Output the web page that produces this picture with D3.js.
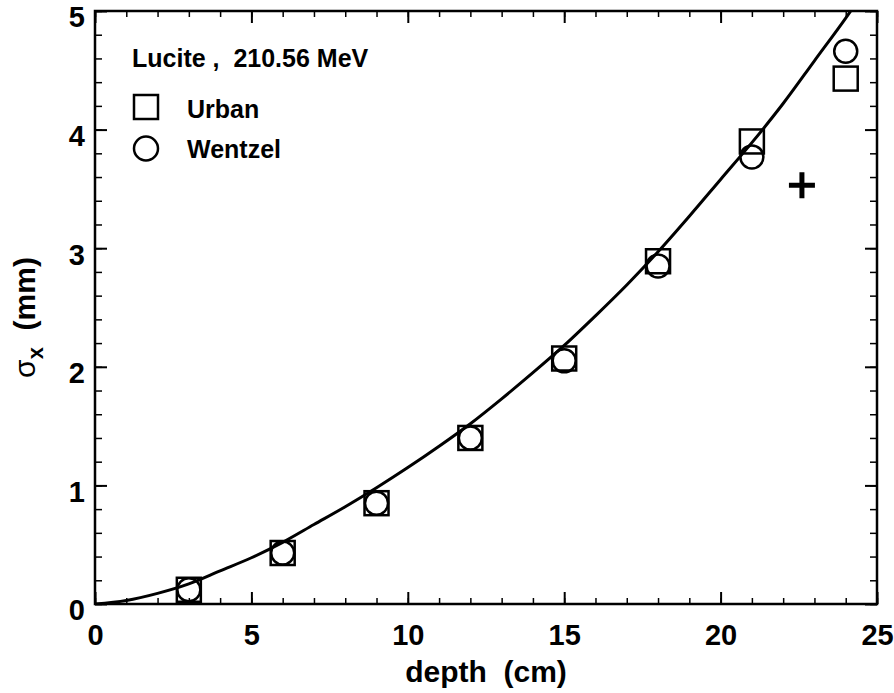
<!DOCTYPE html>
<html>
<head>
<meta charset="utf-8">
<script src="https://cdn.jsdelivr.net/npm/d3@7"></script>
<style>
  body { margin: 0; background: #fff; }
  text { font-family: "Liberation Sans", Arial, sans-serif; font-weight: bold; fill: #000; white-space: pre; }
</style>
</head>
<body>
<div id="graphArea"></div>
<script>
// data
var depths = [3, 6, 9, 12, 15, 18, 21, 24];
var urban = [0.12, 0.43, 0.85, 1.40, 2.07, 2.89, 3.90, 4.43];
var wentzel = [0.12, 0.43, 0.85, 1.40, 2.05, 2.85, 3.77, 4.66];
var crossPt = [[22.6, 3.53]];
var curveX = [0, 1, 2, 3, 4, 5, 6, 7, 8, 9, 10, 11, 12, 13, 14, 15, 16, 17, 18, 19, 20, 21, 22, 23, 24, 24.5];
var curveY = [0, 0.03, 0.09, 0.17, 0.28, 0.39, 0.52, 0.67, 0.82, 0.98, 1.15, 1.33, 1.52, 1.73, 1.95, 2.18, 2.43, 2.69, 2.97, 3.27, 3.58, 3.89, 4.22, 4.58, 4.94, 5.13];
var xTicks = [0, 5, 10, 15, 20, 25];
var yTicks = [0, 1, 2, 3, 4, 5];

var margin = {left: 95, top: 11, right: 17, bottom: 89};
var width = 894 - margin.left - margin.right;
var height = 693 - margin.top - margin.bottom;

var svg = d3.select("#graphArea")
  .append("svg")
    .attr("width", 894)
    .attr("height", 693)
  .append("g")
    .attr("transform", "translate(" + margin.left + "," + margin.top + ")");

var x = d3.scaleLinear().domain([0, 25]).range([0, width]);
var y = d3.scaleLinear().domain([0, 5]).range([height, 0]);

var xMinor = d3.range(0, 26, 1);
var yMinor = d3.range(0, 5.01, 0.2);

function tidy(g, w) {
  g.select(".domain").remove();
  g.selectAll("line").attr("stroke", "#000").attr("stroke-width", w);
}

// minor ticks on all four sides
svg.append("g").attr("transform", "translate(0," + height + ")")
  .call(d3.axisBottom(x).tickValues(xMinor).tickSize(-6).tickFormat(""))
  .call(tidy, 1.5);
svg.append("g")
  .call(d3.axisTop(x).tickValues(xMinor).tickSize(-6).tickFormat(""))
  .call(tidy, 1.5);
svg.append("g")
  .call(d3.axisLeft(y).tickValues(yMinor).tickSize(-7).tickFormat(""))
  .call(tidy, 1.5);
svg.append("g").attr("transform", "translate(" + width + ",0)")
  .call(d3.axisRight(y).tickValues(yMinor).tickSize(-7).tickFormat(""))
  .call(tidy, 1.5);

// major ticks
svg.append("g").attr("transform", "translate(0," + height + ")")
  .call(d3.axisBottom(x).tickValues(xTicks).tickSize(-12).tickPadding(20).tickFormat(d3.format("d")))
  .call(tidy, 2)
  .selectAll("text")
    .style("font-size", "29px");
svg.append("g")
  .call(d3.axisTop(x).tickValues(xTicks).tickSize(-12).tickFormat(""))
  .call(tidy, 2);
svg.append("g")
  .call(d3.axisLeft(y).tickValues(yTicks).tickSize(-12).tickPadding(10).tickFormat(d3.format("d")))
  .call(tidy, 2)
  .selectAll("text")
    .attr("dy", "0.55em")
    .style("font-size", "29px");
svg.append("g").attr("transform", "translate(" + width + ",0)")
  .call(d3.axisRight(y).tickValues(yTicks).tickSize(-12).tickFormat(""))
  .call(tidy, 2);

// frame
svg.append("rect")
  .attr("width", width)
  .attr("height", height)
  .attr("fill", "none")
  .attr("stroke", "#000")
  .attr("stroke-width", 2.5);

svg.append("clipPath").attr("id", "clip")
  .append("rect").attr("width", width).attr("height", height);

// curve
var line = d3.line()
  .x(function(d, i) { return x(curveX[i]); })
  .y(function(d) { return y(d); })
  .curve(d3.curveMonotoneX);
svg.append("path")
  .datum(curveY)
  .attr("clip-path", "url(#clip)")
  .attr("d", line)
  .attr("fill", "none")
  .attr("stroke", "#000")
  .attr("stroke-width", 3);

// Urban squares
var sq = 24;
svg.selectAll("rect.urban")
  .data(urban)
  .enter()
  .append("rect")
    .attr("class", "urban")
    .attr("x", function(d, i) { return x(depths[i]) - sq / 2; })
    .attr("y", function(d) { return y(d) - sq / 2; })
    .attr("width", sq)
    .attr("height", sq)
    .attr("fill", "none")
    .attr("stroke", "#000")
    .attr("stroke-width", 2.5);

// Wentzel circles
svg.selectAll("circle.wentzel")
  .data(wentzel)
  .enter()
  .append("circle")
    .attr("class", "wentzel")
    .attr("cx", function(d, i) { return x(depths[i]); })
    .attr("cy", function(d) { return y(d); })
    .attr("r", 11.5)
    .attr("fill", "none")
    .attr("stroke", "#000")
    .attr("stroke-width", 2.5);

// cross
svg.selectAll("path.cross")
  .data(crossPt)
  .enter()
  .append("path")
    .attr("class", "cross")
    .attr("d", function(d) {
      var cx = x(d[0]), cy = y(d[1]);
      return "M" + (cx - 13) + "," + cy + "H" + (cx + 13) + "M" + cx + "," + (cy - 13) + "V" + (cy + 13);
    })
    .attr("stroke", "#000")
    .attr("stroke-width", 5);

// legend
svg.append("text")
  .attr("x", 37)
  .attr("y", 56)
  .style("font-size", "25px")
  .text("Lucite ,  210.56 MeV");

svg.append("rect")
  .attr("x", 39)
  .attr("y", 84)
  .attr("width", 24)
  .attr("height", 24)
  .attr("fill", "none")
  .attr("stroke", "#000")
  .attr("stroke-width", 2.5);
svg.append("text")
  .attr("x", 92)
  .attr("y", 107)
  .style("font-size", "25px")
  .text("Urban");

svg.append("circle")
  .attr("cx", 51)
  .attr("cy", 137.5)
  .attr("r", 12)
  .attr("fill", "none")
  .attr("stroke", "#000")
  .attr("stroke-width", 2.5);
svg.append("text")
  .attr("x", 92)
  .attr("y", 147)
  .style("font-size", "25px")
  .text("Wentzel");

// axis titles
svg.append("text")
  .attr("text-anchor", "middle")
  .attr("x", width / 2)
  .attr("y", height + 78)
  .style("font-size", "30px")
  .text("depth  (cm)");

var yt = svg.append("text")
  .attr("text-anchor", "middle")
  .attr("transform", "translate(-60," + (height / 2 + 10) + ")rotate(-90)")
  .style("font-size", "30px");
yt.append("tspan").style("font-weight", "normal").text("σ");
yt.append("tspan").attr("dy", 8).style("font-size", "22px").text("x");
yt.append("tspan").attr("dy", -8).text("  (mm)");
</script>
</body>
</html>
